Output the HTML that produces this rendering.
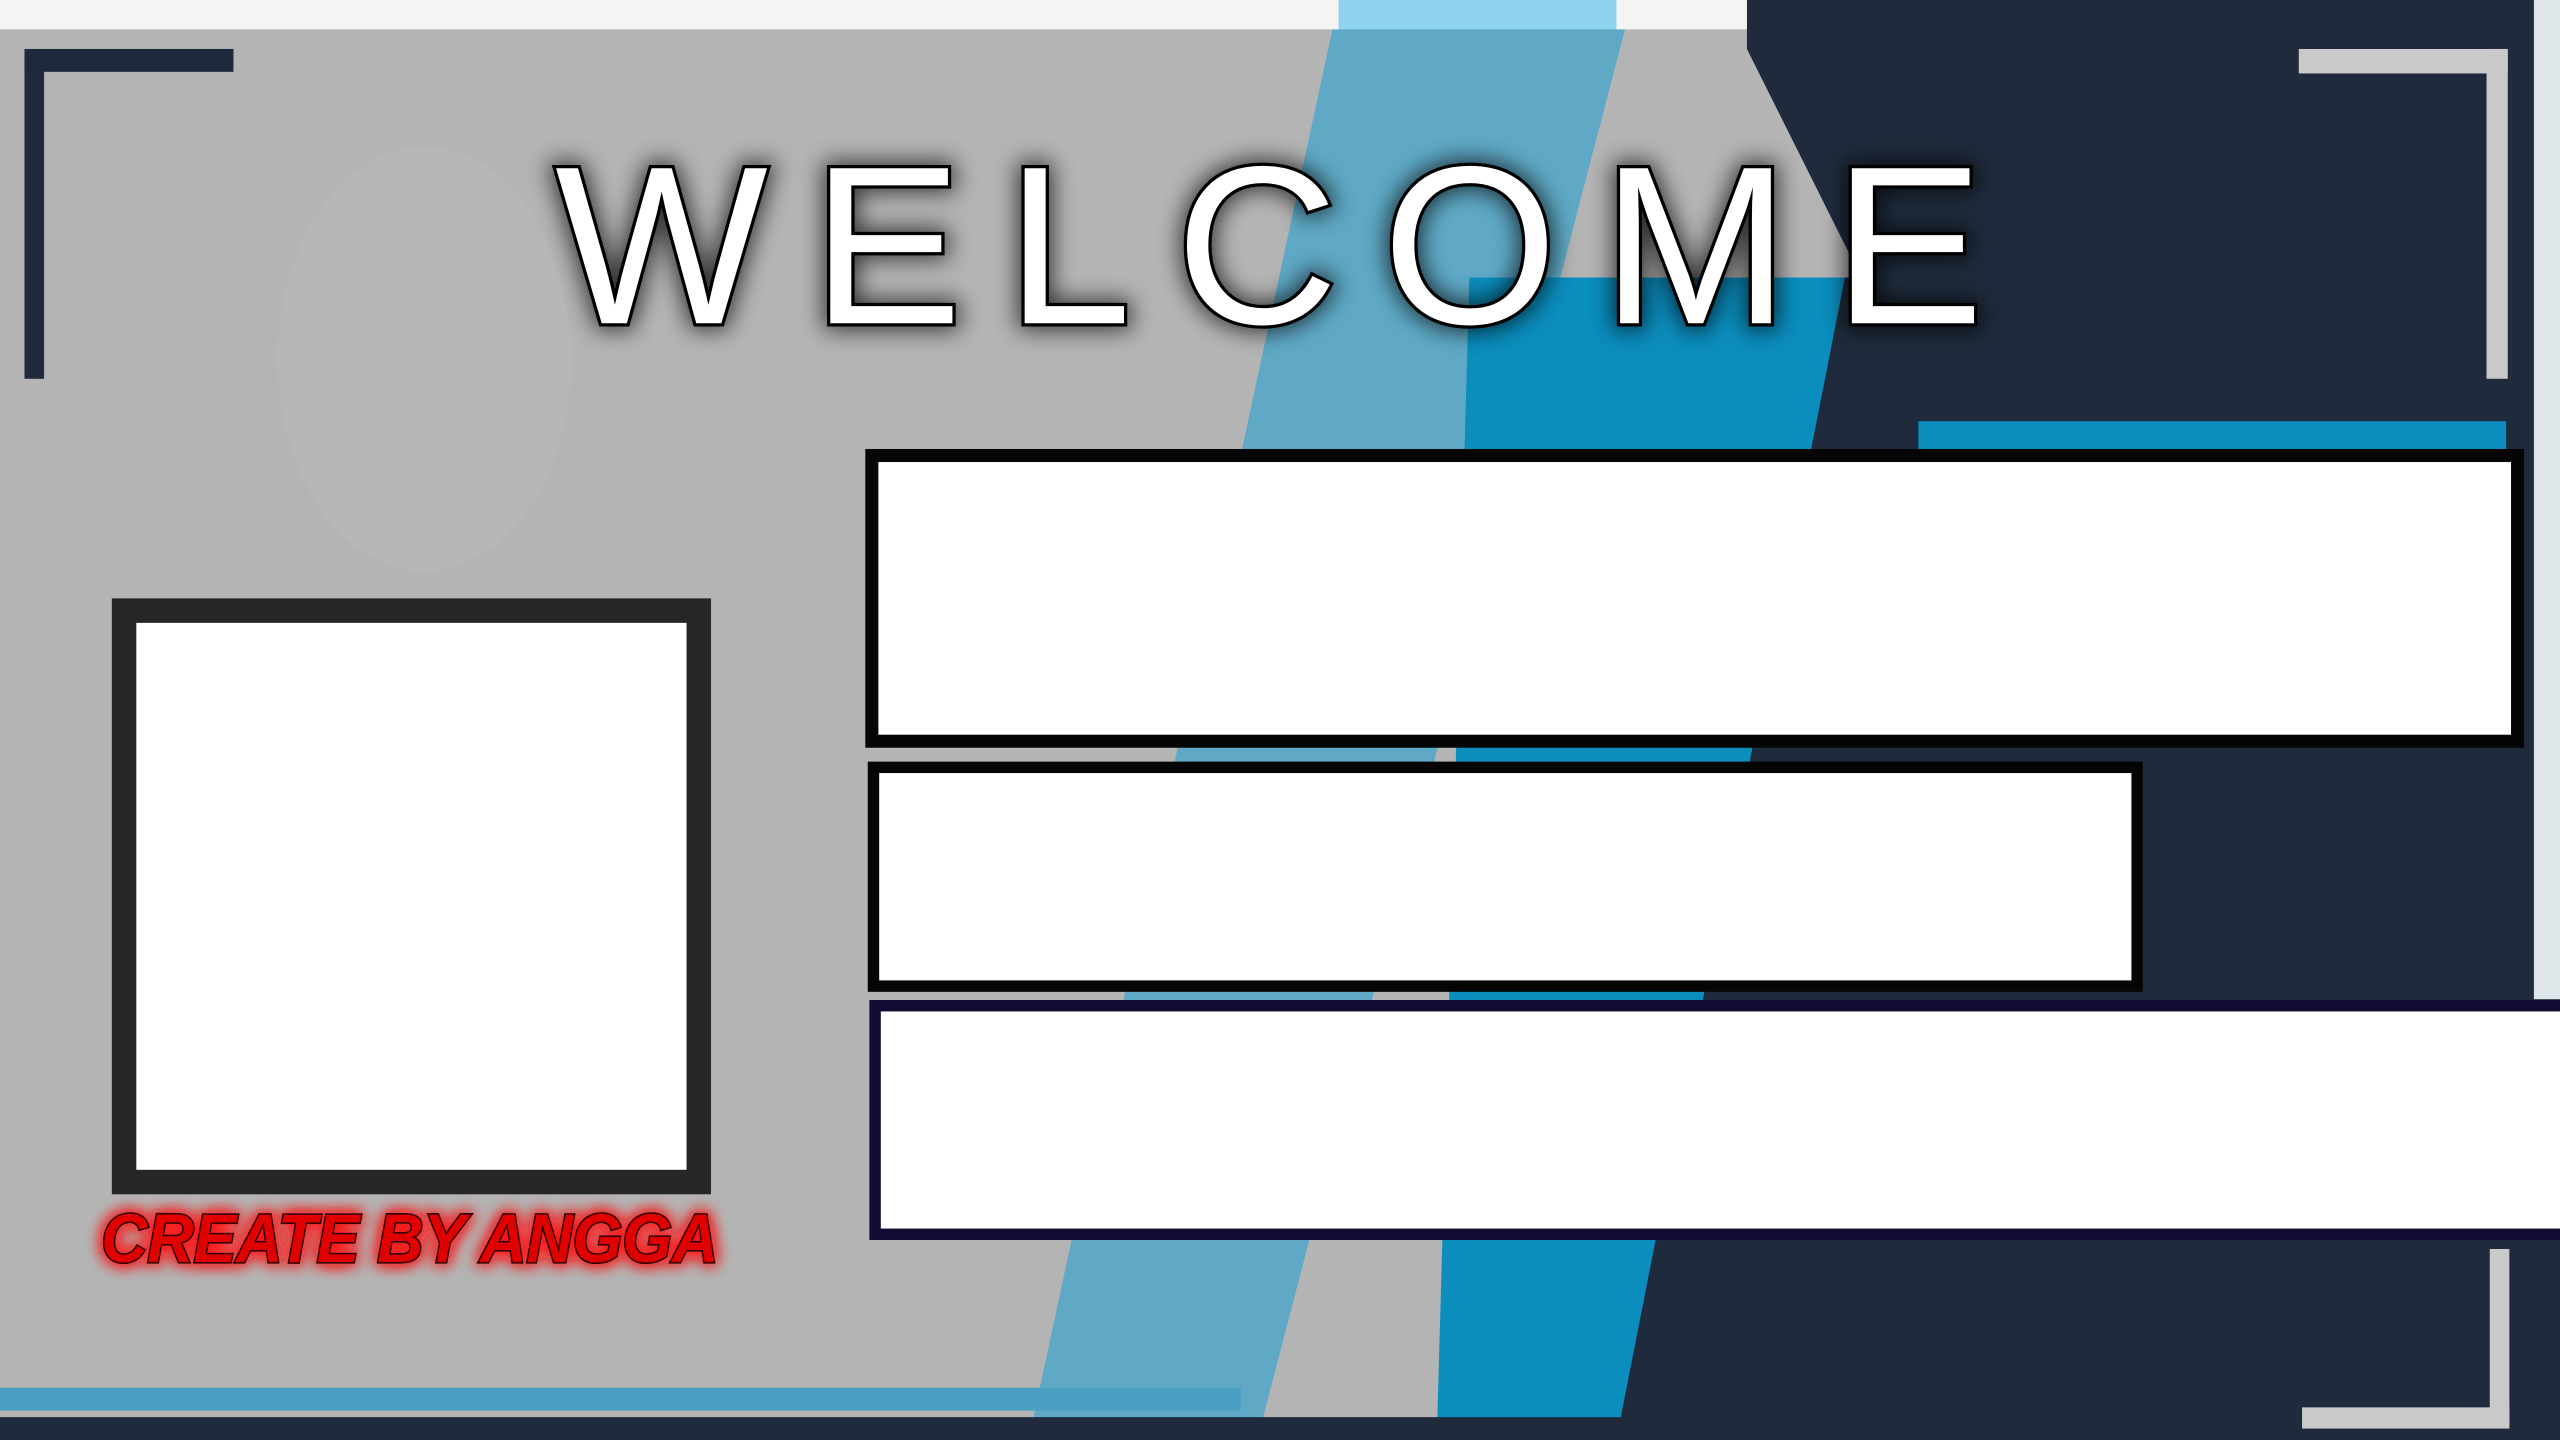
<!DOCTYPE html>
<html><head><meta charset="utf-8"><style>
html,body{margin:0;padding:0;width:2560px;height:1440px;overflow:hidden;background:#b3b3b3}
svg{display:block}
</style></head><body>
<svg width="2560" height="1440" viewBox="0 0 1568 882" preserveAspectRatio="none" xmlns="http://www.w3.org/2000/svg">
<defs>
<filter id="glow" x="-20%" y="-60%" width="140%" height="220%"><feGaussianBlur stdDeviation="5" result="b"/><feFlood flood-color="#ff1010"/><feComposite in2="b" operator="in" result="g"/><feMerge><feMergeNode in="g"/><feMergeNode in="g"/><feMergeNode in="SourceGraphic"/></feMerge></filter>
<filter id="shadow" x="-10%" y="-30%" width="120%" height="160%"><feGaussianBlur stdDeviation="7"/></filter>
</defs>
<rect x="0" y="0" width="1568" height="882" fill="#b4b4b4"/>
<ellipse cx="260" cy="220" rx="90" ry="130" fill="#b7b7b7"/>
<polygon points="820,0 1000,0 770,882 630,882" fill="#5fa9c6"/>
<polygon points="900,170 1150,170 1010,882 880,882" fill="#0b8dbd"/>
<polygon points="1070,0 1568,0 1568,882 990,882 1130,170 1140,170 1070,30" fill="#1f2b3c"/>
<rect x="1175" y="258" width="360" height="18" fill="#0b8dbd"/>
<rect x="0" y="0" width="820" height="18" fill="#f4f4f4"/>
<rect x="820" y="0" width="170" height="18" fill="#8fd3ef"/>
<rect x="990" y="0" width="80" height="18" fill="#f4f4f4"/>
<rect x="1552" y="0" width="16" height="612" fill="#dfe6ea"/>
<rect x="0" y="850" width="760" height="14" fill="#4a9fc2"/>
<rect x="0" y="868" width="1568" height="14" fill="#1f2b3c"/>
<g fill="#1e2a3c"><rect x="15" y="30" width="128" height="14"/><rect x="15" y="30" width="12" height="202"/></g>
<g fill="#c9c9c9"><rect x="1408" y="30" width="128" height="15"/><rect x="1523" y="30" width="13" height="202"/></g>
<g fill="#c9c9c9"><rect x="1525" y="765" width="12" height="108"/><rect x="1410" y="862" width="127" height="13"/></g>
<text x="340" y="198" textLength="875" lengthAdjust="spacing" font-family="Liberation Sans, sans-serif" font-size="138" fill="#000" stroke="#000" stroke-width="8" opacity="0.7" filter="url(#shadow)">WELCOME</text>
<text x="340" y="198" textLength="875" lengthAdjust="spacing" font-family="Liberation Sans, sans-serif" font-size="138" fill="#fff" stroke="#000" stroke-width="4" paint-order="stroke">WELCOME</text>
<rect x="76" y="374" width="352" height="350" fill="#fff" stroke="#262626" stroke-width="15"/>
<rect x="534" y="279" width="1008" height="175" fill="#fff" stroke="#050505" stroke-width="8"/>
<rect x="535" y="470" width="774" height="134" fill="#fff" stroke="#050505" stroke-width="7"/>
<rect x="536" y="616" width="1036" height="140" fill="#fff" stroke="#150c33" stroke-width="7"/>
<text x="62" y="773" textLength="378" lengthAdjust="spacingAndGlyphs" font-family="Liberation Sans, sans-serif" font-weight="bold" font-style="italic" font-size="42" fill="#e00000" stroke="#300" stroke-width="2" paint-order="stroke" filter="url(#glow)">CREATE BY ANGGA</text>
</svg>
</body></html>
